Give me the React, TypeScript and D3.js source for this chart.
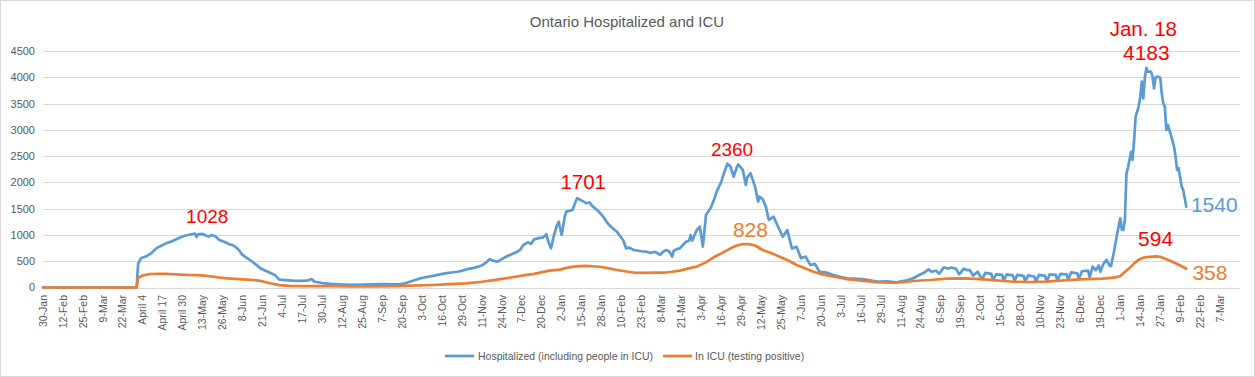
import React from "react";
import * as d3 from "d3";

const W = 1255;
const H = 377;

const chartTitle = "Ontario Hospitalized and ICU";
const axisStart = "2020-01-30";
const axisEnd = "2022-03-20";

const tickLabels = [
  "30-Jan", "12-Feb", "25-Feb", "9-Mar", "22-Mar", "April 4", "April 17", "April 30", "13-May", "26-May",
  "8-Jun", "21-Jun", "4-Jul", "17-Jul", "30-Jul", "12-Aug", "25-Aug", "7-Sep", "20-Sep", "3-Oct",
  "16-Oct", "29-Oct", "11-Nov", "24-Nov", "7-Dec", "20-Dec", "2-Jan", "15-Jan", "28-Jan", "10-Feb",
  "23-Feb", "8-Mar", "21-Mar", "3-Apr", "16-Apr", "29-Apr", "12-May", "25-May", "7-Jun", "20-Jun",
  "3-Jul", "16-Jul", "29-Jul", "11-Aug", "24-Aug", "6-Sep", "19-Sep", "2-Oct", "15-Oct", "28-Oct",
  "10-Nov", "23-Nov", "6-Dec", "19-Dec", "1-Jan", "14-Jan", "27-Jan", "9-Feb", "22-Feb", "7-Mar",
];
const tickStepDays = 13;

const yTicks = [0, 500, 1000, 1500, 2000, 2500, 3000, 3500, 4000, 4500];

const seriesNames = ["Hospitalized (including people in ICU)", "In ICU (testing positive)"];

const hospitalized: [string, number][] = [
  ["2020-01-30", 0], ["2020-03-31", 0], ["2020-04-01", 460], ["2020-04-03", 560], ["2020-04-06", 590],
  ["2020-04-09", 640], ["2020-04-13", 750], ["2020-04-17", 810], ["2020-04-20", 850], ["2020-04-23", 880],
  ["2020-04-26", 920], ["2020-04-29", 960], ["2020-05-02", 990], ["2020-05-05", 1010], ["2020-05-08", 1028],
  ["2020-05-09", 960], ["2020-05-10", 1010], ["2020-05-13", 1020], ["2020-05-15", 990], ["2020-05-17", 970],
  ["2020-05-19", 1000], ["2020-05-21", 980], ["2020-05-24", 905], ["2020-05-27", 870], ["2020-05-30", 830],
  ["2020-06-02", 800], ["2020-06-04", 760], ["2020-06-06", 700], ["2020-06-08", 620], ["2020-06-11", 560],
  ["2020-06-14", 500], ["2020-06-17", 430], ["2020-06-20", 360], ["2020-06-23", 320], ["2020-06-26", 280],
  ["2020-06-29", 240], ["2020-07-02", 150], ["2020-07-06", 140], ["2020-07-11", 130], ["2020-07-15", 125],
  ["2020-07-20", 130], ["2020-07-23", 160], ["2020-07-25", 110], ["2020-07-30", 85], ["2020-08-04", 70],
  ["2020-08-10", 60], ["2020-08-17", 50], ["2020-08-25", 55], ["2020-09-01", 60], ["2020-09-08", 65],
  ["2020-09-14", 60], ["2020-09-19", 65], ["2020-09-22", 80], ["2020-09-26", 120], ["2020-10-02", 175],
  ["2020-10-06", 200], ["2020-10-10", 220], ["2020-10-14", 245], ["2020-10-18", 270], ["2020-10-22", 285],
  ["2020-10-26", 300], ["2020-10-29", 320], ["2020-11-01", 345], ["2020-11-05", 370], ["2020-11-09", 400],
  ["2020-11-11", 420], ["2020-11-14", 480], ["2020-11-16", 540], ["2020-11-19", 505], ["2020-11-21", 490],
  ["2020-11-24", 540], ["2020-11-27", 590], ["2020-11-30", 630], ["2020-12-04", 680], ["2020-12-06", 720],
  ["2020-12-08", 810], ["2020-12-11", 860], ["2020-12-13", 830], ["2020-12-15", 917], ["2020-12-18", 940],
  ["2020-12-21", 955], ["2020-12-23", 1013], ["2020-12-24", 900], ["2020-12-26", 745], ["2020-12-28", 1000],
  ["2020-12-30", 1190], ["2020-12-31", 1253], ["2021-01-02", 1000], ["2021-01-04", 1350], ["2021-01-05", 1444],
  ["2021-01-07", 1460], ["2021-01-09", 1475], ["2021-01-10", 1550], ["2021-01-12", 1701], ["2021-01-14", 1670],
  ["2021-01-16", 1640], ["2021-01-18", 1603], ["2021-01-20", 1620], ["2021-01-22", 1550], ["2021-01-25", 1476],
  ["2021-01-27", 1420], ["2021-01-29", 1350], ["2021-01-31", 1260], ["2021-02-02", 1190], ["2021-02-05", 1110],
  ["2021-02-07", 1063], ["2021-02-09", 980], ["2021-02-11", 905], ["2021-02-13", 745], ["2021-02-15", 760],
  ["2021-02-18", 714], ["2021-02-21", 700], ["2021-02-23", 690], ["2021-02-26", 682], ["2021-03-01", 660],
  ["2021-03-04", 680], ["2021-03-07", 620], ["2021-03-09", 680], ["2021-03-11", 714], ["2021-03-13", 690],
  ["2021-03-15", 587], ["2021-03-16", 700], ["2021-03-18", 730], ["2021-03-20", 745], ["2021-03-22", 810],
  ["2021-03-24", 872], ["2021-03-26", 893], ["2021-03-27", 1000], ["2021-03-28", 893], ["2021-03-29", 955],
  ["2021-03-31", 1095], ["2021-04-02", 1158], ["2021-04-04", 777], ["2021-04-06", 1380], ["2021-04-09", 1508],
  ["2021-04-11", 1650], ["2021-04-13", 1825], ["2021-04-16", 2015], ["2021-04-18", 2200], ["2021-04-20", 2360],
  ["2021-04-22", 2300], ["2021-04-24", 2110], ["2021-04-26", 2280], ["2021-04-27", 2345], ["2021-04-30", 2240],
  ["2021-05-02", 1952], ["2021-05-03", 2100], ["2021-05-05", 2175], ["2021-05-08", 1920], ["2021-05-10", 1635],
  ["2021-05-11", 1730], ["2021-05-13", 1680], ["2021-05-15", 1540], ["2021-05-17", 1285], ["2021-05-20", 1350],
  ["2021-05-23", 1158], ["2021-05-26", 968], ["2021-05-29", 1095], ["2021-06-01", 745], ["2021-06-04", 777],
  ["2021-06-07", 555], ["2021-06-10", 590], ["2021-06-13", 428], ["2021-06-16", 450], ["2021-06-19", 300],
  ["2021-06-23", 290], ["2021-06-28", 238], ["2021-07-03", 200], ["2021-07-07", 175], ["2021-07-11", 170],
  ["2021-07-17", 160], ["2021-07-23", 130], ["2021-07-28", 110], ["2021-08-02", 115], ["2021-08-08", 100],
  ["2021-08-14", 130], ["2021-08-19", 175], ["2021-08-23", 238], ["2021-08-26", 280], ["2021-08-29", 345],
  ["2021-08-31", 300], ["2021-09-03", 320], ["2021-09-05", 260], ["2021-09-08", 385], ["2021-09-11", 360],
  ["2021-09-13", 380], ["2021-09-16", 355], ["2021-09-18", 250], ["2021-09-21", 360], ["2021-09-23", 330],
  ["2021-09-25", 330], ["2021-09-27", 225], ["2021-09-30", 300], ["2021-10-03", 150], ["2021-10-05", 280],
  ["2021-10-09", 260], ["2021-10-10", 140], ["2021-10-12", 250], ["2021-10-16", 240], ["2021-10-17", 130],
  ["2021-10-19", 250], ["2021-10-23", 230], ["2021-10-24", 130], ["2021-10-26", 240], ["2021-10-30", 220],
  ["2021-10-31", 120], ["2021-11-02", 230], ["2021-11-06", 210], ["2021-11-07", 110], ["2021-11-09", 240],
  ["2021-11-13", 220], ["2021-11-14", 110], ["2021-11-16", 250], ["2021-11-20", 240], ["2021-11-21", 130],
  ["2021-11-23", 260], ["2021-11-27", 250], ["2021-11-28", 150], ["2021-11-30", 290], ["2021-12-04", 270],
  ["2021-12-05", 165], ["2021-12-07", 310], ["2021-12-11", 320], ["2021-12-12", 200], ["2021-12-14", 397],
  ["2021-12-16", 330], ["2021-12-18", 420], ["2021-12-19", 300], ["2021-12-21", 450], ["2021-12-23", 525],
  ["2021-12-25", 420], ["2021-12-26", 410], ["2021-12-28", 700], ["2021-12-30", 1030], ["2022-01-01", 1318],
  ["2022-01-02", 1100], ["2022-01-03", 1095], ["2022-01-04", 1300], ["2022-01-05", 2175], ["2022-01-06", 2280],
  ["2022-01-08", 2586], ["2022-01-09", 2428], ["2022-01-10", 2800], ["2022-01-11", 3253], ["2022-01-13", 3450],
  ["2022-01-14", 3630], ["2022-01-15", 3920], ["2022-01-16", 3603], ["2022-01-17", 4000], ["2022-01-18", 4183],
  ["2022-01-19", 4110], ["2022-01-21", 4110], ["2022-01-22", 4015], ["2022-01-23", 3793], ["2022-01-24", 4000],
  ["2022-01-25", 4015], ["2022-01-27", 4000], ["2022-01-28", 3700], ["2022-01-29", 3508], ["2022-01-30", 3450],
  ["2022-01-31", 3000], ["2022-02-01", 3095], ["2022-02-03", 2900], ["2022-02-05", 2682], ["2022-02-06", 2500],
  ["2022-02-07", 2237], ["2022-02-08", 2270], ["2022-02-10", 1920], ["2022-02-11", 1857], ["2022-02-12", 1700],
  ["2022-02-13", 1540],
];

const icu: [string, number][] = [
  ["2020-01-30", 0], ["2020-03-31", 0], ["2020-04-01", 187], ["2020-04-04", 230], ["2020-04-09", 257],
  ["2020-04-14", 262], ["2020-04-19", 258], ["2020-04-24", 252], ["2020-04-29", 245], ["2020-05-04", 238],
  ["2020-05-09", 235], ["2020-05-14", 225], ["2020-05-19", 210], ["2020-05-24", 187], ["2020-05-29", 175],
  ["2020-06-03", 165], ["2020-06-08", 155], ["2020-06-15", 143], ["2020-06-20", 125], ["2020-06-26", 80],
  ["2020-07-02", 45], ["2020-07-08", 30], ["2020-07-18", 28], ["2020-07-28", 28], ["2020-08-07", 25],
  ["2020-08-17", 22], ["2020-09-01", 20], ["2020-09-16", 25], ["2020-09-26", 35], ["2020-10-10", 48],
  ["2020-10-21", 65], ["2020-11-01", 80], ["2020-11-11", 110], ["2020-11-21", 150], ["2020-11-30", 190],
  ["2020-12-08", 230], ["2020-12-15", 260], ["2020-12-25", 320], ["2021-01-01", 340], ["2021-01-06", 380],
  ["2021-01-10", 397], ["2021-01-14", 408], ["2021-01-18", 412], ["2021-01-22", 405], ["2021-01-27", 395],
  ["2021-02-01", 370], ["2021-02-07", 333], ["2021-02-13", 305], ["2021-02-18", 285], ["2021-02-25", 280],
  ["2021-03-05", 282], ["2021-03-11", 285], ["2021-03-15", 300], ["2021-03-20", 320], ["2021-03-25", 360],
  ["2021-03-31", 397], ["2021-04-06", 480], ["2021-04-11", 575], ["2021-04-16", 650], ["2021-04-22", 745],
  ["2021-04-26", 800], ["2021-04-30", 828], ["2021-05-04", 825], ["2021-05-08", 800], ["2021-05-13", 714],
  ["2021-05-18", 660], ["2021-05-24", 587], ["2021-05-30", 510], ["2021-06-04", 428], ["2021-06-10", 360],
  ["2021-06-15", 300], ["2021-06-21", 250], ["2021-06-26", 219], ["2021-07-03", 180], ["2021-07-07", 160],
  ["2021-07-13", 140], ["2021-07-18", 124], ["2021-07-28", 95], ["2021-08-08", 92], ["2021-08-14", 105],
  ["2021-08-19", 124], ["2021-08-30", 143], ["2021-09-10", 170], ["2021-09-21", 175], ["2021-10-02", 160],
  ["2021-10-12", 135], ["2021-10-23", 110], ["2021-11-03", 105], ["2021-11-14", 112], ["2021-11-25", 135],
  ["2021-12-06", 156], ["2021-12-20", 170], ["2021-12-28", 187], ["2022-01-01", 220], ["2022-01-03", 270],
  ["2022-01-07", 370], ["2022-01-10", 460], ["2022-01-13", 530], ["2022-01-16", 568], ["2022-01-20", 585],
  ["2022-01-24", 594], ["2022-01-27", 585], ["2022-01-31", 537], ["2022-02-04", 490], ["2022-02-07", 448],
  ["2022-02-10", 405], ["2022-02-13", 358],
];

// label anchors expressed in data space (date, value)
const annotationTexts = ["1028", "1701", "2360", "828", "Jan. 18", "4183", "594", "1540", "358"];
const annotationDates = ["2020-05-16", "2021-01-16", "2021-04-23", "2021-05-05", "2022-01-16", "2022-01-18", "2022-01-24", "2022-02-16", "2022-02-17"];
const annotationValues = [1228, 1876, 2504, 971, 4790, 4333, 781, 1447, 143];

const BLUE = "#5B9BD5";
const ORANGE = "#ED7D31";
const RED = "#FF0000";
const TEXT = "#595959";
const GRID = "#D9D9D9";
const FONT = "'Liberation Sans', Arial, sans-serif";

const parse = d3.utcParse("%Y-%m-%d");

export default function App() {
  const left = 43;
  const right = 1240;
  const top = 51.2;
  const bottom = 287.5;

  const x = d3.scaleUtc().domain([parse(axisStart)!, parse(axisEnd)!]).range([left, right]);
  const y = d3.scaleLinear().domain([0, 4500]).range([bottom, top]);

  const line = d3
    .line<[string, number]>()
    .x((d) => x(parse(d[0])!))
    .y((d) => y(d[1]));

  const start = parse(axisStart)!;
  const ticks = tickLabels.map((label, i) => ({
    label,
    date: d3.utcDay.offset(start, i * tickStepDays),
  }));

  const annStyles = [
    { color: RED, size: 19, anchor: "middle" },
    { color: RED, size: 20.5, anchor: "middle" },
    { color: RED, size: 19, anchor: "middle" },
    { color: ORANGE, size: 21, anchor: "middle" },
    { color: RED, size: 20.5, anchor: "middle" },
    { color: RED, size: 21, anchor: "middle" },
    { color: RED, size: 21, anchor: "middle" },
    { color: BLUE, size: 21, anchor: "start" },
    { color: ORANGE, size: 21, anchor: "start" },
  ];

  return (
    <svg
      width={W}
      height={H}
      style={{ position: "absolute", left: 0, top: 0, background: "#fff" }}
      fontFamily={FONT}
    >
      <rect x={0.5} y={0.5} width={W - 1} height={H - 1} fill="#fff" stroke={GRID} />
      <text x={627} y={27} textAnchor="middle" fontSize={15} fill={TEXT}>
        {chartTitle}
      </text>

      {yTicks.map((t) => (
        <g key={t}>
          <line x1={left} x2={right} y1={Math.round(y(t)) + 0.5} y2={Math.round(y(t)) + 0.5} stroke={GRID} strokeWidth={1} />
          <text x={35} y={y(t)} dy="0.35em" textAnchor="end" fontSize={11} fill={TEXT}>
            {t}
          </text>
        </g>
      ))}

      {ticks.map((t) => (
        <text
          key={t.label}
          transform={`translate(${x(t.date)},${295}) rotate(-90)`}
          dy="0.35em"
          textAnchor="end"
          fontSize={10.5}
          fill={TEXT}
        >
          {t.label}
        </text>
      ))}

      <path d={line(hospitalized) || ""} fill="none" stroke={BLUE} strokeWidth={2.7} strokeLinejoin="round" strokeLinecap="round" />
      <path d={line(icu) || ""} fill="none" stroke={ORANGE} strokeWidth={2.7} strokeLinejoin="round" strokeLinecap="round" />

      {annotationTexts.map((txt, i) => (
        <text
          key={txt}
          x={x(parse(annotationDates[i])!)}
          y={y(annotationValues[i])}
          textAnchor={annStyles[i].anchor as any}
          fontSize={annStyles[i].size}
          fill={annStyles[i].color}
        >
          {txt}
        </text>
      ))}

      <g fontSize={10.5} fill={TEXT}>
        <line x1={445} x2={474} y1={356} y2={356} stroke={BLUE} strokeWidth={2.7} />
        <text x={478} y={356} dy="0.35em">{seriesNames[0]}</text>
        <line x1={663} x2={692} y1={356} y2={356} stroke={ORANGE} strokeWidth={2.7} />
        <text x={695} y={356} dy="0.35em">{seriesNames[1]}</text>
      </g>
    </svg>
  );
}
